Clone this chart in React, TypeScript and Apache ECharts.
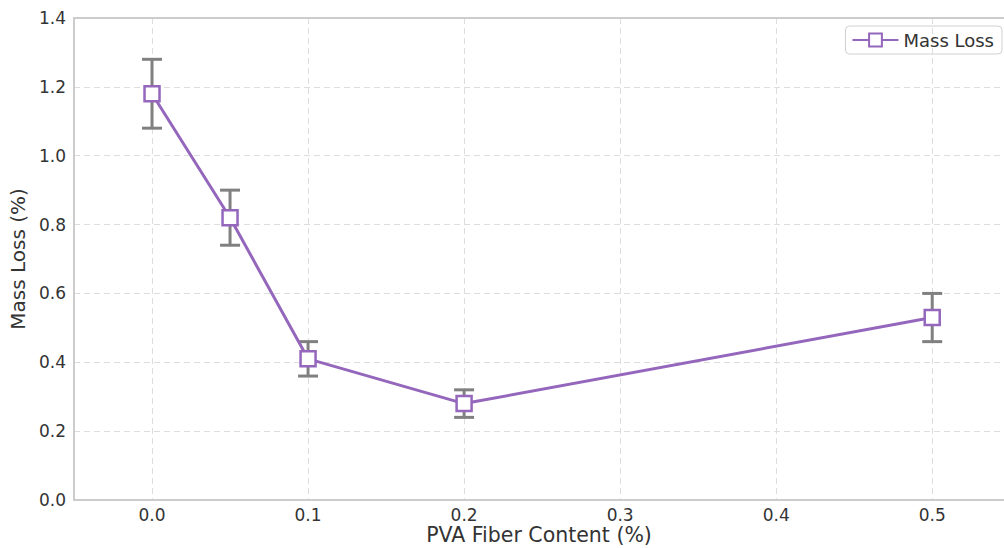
import React, { useEffect, useRef } from "react";
import * as echarts from "echarts";

const fiberContent = [0.0, 0.05, 0.1, 0.2, 0.5];
const massLoss = [1.18, 0.82, 0.41, 0.28, 0.53];
const massLossErr = [0.1, 0.08, 0.05, 0.04, 0.07];
const xTickValues = [0.0, 0.1, 0.2, 0.3, 0.4, 0.5];

const PURPLE = "#9467bd";
const FONT = "DejaVu Sans";

export default function App() {
  const ref = useRef<HTMLDivElement>(null);
  useEffect(() => {
    document.body.style.margin = "0";
    const chart = echarts.init(ref.current!, null, { renderer: "svg" });
    const lineData = fiberContent.map((x, i) => [x, massLoss[i]]);
    const errData = fiberContent.map((x, i) => [x, massLoss[i] - massLossErr[i], massLoss[i] + massLossErr[i]]);
    chart.setOption({
      animation: false,
      textStyle: { fontFamily: FONT },
      grid: { left: 74, top: 18, right: 0, bottom: 48, outerBoundsMode: "none", containLabel: false },
      legend: {
        right: 2,
        top: 26,
        padding: [5, 8, 5, 6],
        itemWidth: 46,
        itemHeight: 16,
        itemGap: 10,
        borderColor: "#d0d0d0",
        borderWidth: 1,
        borderRadius: 4,
        textStyle: { fontSize: 18, color: "#333333", fontFamily: FONT },
        data: ["Mass Loss"],
      },
      xAxis: {
        type: "value",
        min: -0.05,
        max: 0.546,
        name: "PVA Fiber Content (%)",
        nameLocation: "middle",
        nameMoveOverlap: false,
        nameGap: 25,
        nameTextStyle: { fontSize: 20.5, lineHeight: 20, verticalAlign: "top", color: "#333333", fontFamily: FONT },
        axisLine: { show: true, onZero: false, lineStyle: { color: "#cccccc", width: 2 } },
        axisTick: { show: false, customValues: xTickValues },
        axisLabel: {
          customValues: xTickValues,
          fontSize: 17,
          color: "#333333",
          margin: 6,
          formatter: (v: number) => v.toFixed(1),
        },
        splitLine: { show: true, lineStyle: { color: "#dddddd", type: [6, 4], width: 1 } },
      },
      yAxis: {
        type: "value",
        min: 0,
        max: 1.4,
        interval: 0.2,
        name: "Mass Loss (%)",
        nameLocation: "middle",
        nameGap: 46,
        nameTextStyle: { fontSize: 20, color: "#333333", fontFamily: FONT },
        axisLine: { show: true, onZero: false, lineStyle: { color: "#cccccc", width: 2 } },
        axisTick: { show: false },
        axisLabel: {
          fontSize: 17,
          color: "#333333",
          margin: 8,
          formatter: (v: number) => v.toFixed(1),
        },
        splitLine: { show: true, lineStyle: { color: "#dddddd", type: [6, 4], width: 1 } },
      },
      graphic: [
        {
          type: "line",
          shape: { x1: 73, y1: 18, x2: 1004, y2: 18 },
          style: { stroke: "#cccccc", lineWidth: 2 },
          z: 10,
        },
      ],
      series: [
        {
          name: "errorbars",
          type: "custom",
          z: 1,
          data: errData,
          renderItem: (params: any, api: any) => {
            const x = api.value(0);
            const lo = api.coord([x, api.value(1)]);
            const hi = api.coord([x, api.value(2)]);
            const half = 10;
            const style = { stroke: "#808080", lineWidth: 3 };
            return {
              type: "group",
              children: [
                { type: "line", shape: { x1: lo[0], y1: lo[1], x2: hi[0], y2: hi[1] }, style },
                { type: "line", shape: { x1: lo[0] - half, y1: lo[1], x2: lo[0] + half, y2: lo[1] }, style },
                { type: "line", shape: { x1: hi[0] - half, y1: hi[1], x2: hi[0] + half, y2: hi[1] }, style },
              ],
            };
          },
        },
        {
          name: "Mass Loss",
          type: "line",
          z: 3,
          data: lineData,
          symbol: "rect",
          symbolSize: 15,
          showAllSymbol: true,
          lineStyle: { color: PURPLE, width: 3 },
          itemStyle: { color: "#ffffff", borderColor: PURPLE, borderWidth: 2.5 },
          emphasis: { disabled: true },
        },
      ],
    });
    return () => chart.dispose();
  }, []);
  return <div ref={ref} style={{ width: 1004, height: 548 }} />;
}
